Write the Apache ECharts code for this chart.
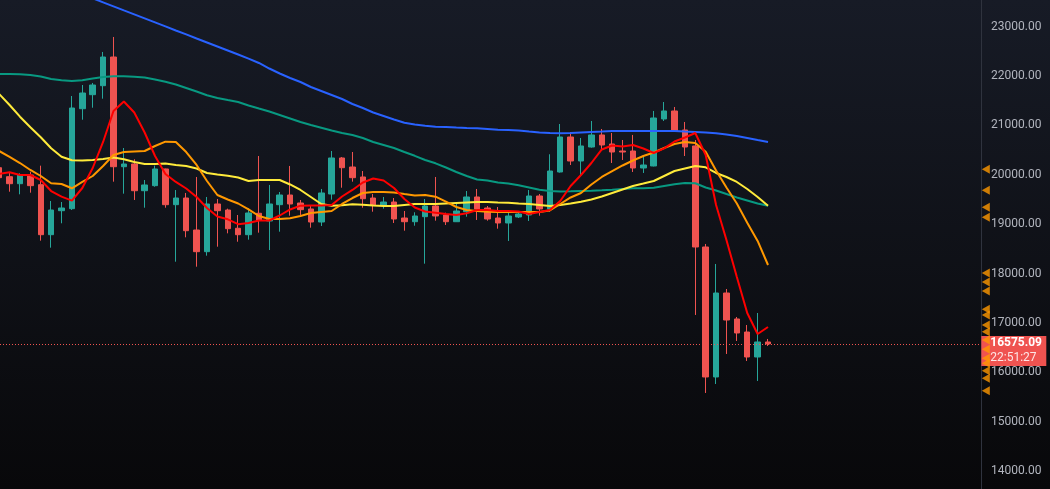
<!DOCTYPE html>
<html>
<head>
<meta charset="utf-8">
<script src="https://cdn.jsdelivr.net/npm/echarts@6/dist/echarts.min.js"></script>
<style>
  html, body { margin: 0; padding: 0; background: #0f1117; }
  #chart { width: 1050px; height: 489px; }
</style>
</head>
<body>
<div id="chart"></div>
<script>
// ---- DATA ----
const startDate = '2022-09-02';
const totalSlots = 95; // visible candles + empty space to the right

const open  = [20144,19962,19820,19996,19800,18787,19273,19314,21339,21623,21805,22386,20164,20219,19678,19780,20118,19395,19530,18882,18443,19409,19287,18917,18787,19221,19065,19395,19591,19429,19308,19044,19611,20341,20158,19956,19530,19383,19449,19125,19050,19152,19368,19186,19050,19253,19551,19328,19125,19024,19146,19186,19571,19308,20057,20766,20280,20563,20807,20624,20482,20482,20138,20179,21131,21293,20908,20584,18538,15905,17606,17080,16816,16310,16614];
const high  = [20180,20043,20031,20063,20185,19470,19449,21596,21819,21860,22488,22792,20543,20314,19895,20185,20125,19692,19632,19956,19551,19510,19314,19186,19322,20381,19794,19652,20179,19490,19383,19713,20482,20361,20462,20077,19611,19551,19530,19267,19241,19510,19956,19233,19429,19672,19713,19368,19348,19253,19267,19692,19611,20416,21029,20867,20746,21090,20928,20847,20705,20807,20401,21293,21475,21374,21070,20705,18599,18194,17687,17120,16958,17201,16675];
const low   = [19880,19658,19605,19638,18666,18524,19018,19287,21116,21359,21542,19861,19618,19490,19334,19759,19334,18240,18734,18139,18362,18544,18815,18645,18686,18828,18477,18848,19172,19186,18929,18963,19496,19739,19861,19334,19253,19314,19024,18868,18969,18200,19071,18984,19044,19152,19085,19071,18909,18660,19125,19065,19172,19253,20045,20199,19996,20550,20503,20239,20300,20057,20037,20170,21090,20880,20381,17161,15581,15763,16371,16634,16229,15824,16533];
const close = [19942,19820,19996,19780,18787,19287,19328,21353,21657,21819,22386,20164,20219,19678,19794,20118,19395,19530,18868,18443,19409,19273,18909,18787,19227,19079,19409,19591,19409,19294,19044,19632,20341,20144,19942,19516,19389,19449,19105,19050,19166,19368,19166,19050,19267,19551,19308,19105,19024,19166,19206,19571,19308,20077,20766,20280,20584,20807,20604,20462,20462,20138,20199,21151,21293,20888,20563,18538,15905,17606,17059,16796,16310,16614,16575.09];

const maRed    = [20017,20051,19996,19996,19895,19672,19557,19476,19733,20138,20665,21293,21485,21262,20857,20381,20017,19855,19723,19551,19328,19156,19099,19000,19024,19075,19075,19176,19298,19375,19379,19379,19389,19561,19693,19845,19926,19885,19733,19510,19338,19257,19233,19206,19186,19221,19287,19287,19267,19267,19257,19206,19247,19287,19470,19774,19996,20239,20513,20594,20574,20604,20533,20442,20537,20675,20756,20847,20401,19389,18680,17930,17201,16776,16918];
const maOrange = [20482,20361,20239,20098,19976,19828,19814,19727,19855,19976,20179,20401,20462,20472,20482,20584,20671,20665,20462,20199,19875,19591,19500,19419,19298,19166,19105,19105,19119,19166,19227,19247,19267,19409,19530,19632,19652,19652,19642,19611,19581,19591,19557,19456,19348,19287,19267,19253,19247,19247,19247,19247,19247,19277,19409,19541,19632,19804,19956,20077,20189,20290,20381,20452,20543,20624,20665,20644,20468,20087,19743,19419,19030,18660,18173];
const maYellow = [21637,21414,21177,20962,20760,20537,20367,20294,20290,20300,20320,20351,20314,20260,20219,20219,20229,20199,20179,20128,20037,20006,19982,19946,19875,19895,19895,19895,19804,19693,19551,19409,19375,19383,19403,19395,19379,19368,19368,19389,19409,19409,19409,19419,19429,19439,19449,19449,19439,19435,19419,19409,19389,19368,19389,19419,19456,19500,19561,19632,19703,19774,19824,19875,19976,20077,20128,20179,20152,20037,19956,19855,19713,19551,19375];
const maGreen  = [22042,22042,22036,22022,21991,21941,21914,21900,21914,21951,21981,21995,21998,21987,21971,21931,21886,21829,21759,21688,21611,21556,21515,21475,21404,21343,21283,21212,21141,21070,21009,20954,20898,20847,20807,20746,20665,20604,20543,20462,20385,20300,20233,20148,20057,19976,19905,19885,19844,19824,19788,19743,19697,19672,19662,19666,19672,19678,19686,19699,19713,19727,19729,19737,19774,19808,19834,19828,19743,19682,19611,19541,19480,19419,19372];
const maBlue   = [24307,24226,24145,24064,23983,23902,23821,23737,23656,23575,23494,23413,23330,23249,23168,23087,23006,22923,22844,22761,22680,22599,22518,22437,22354,22265,22153,22052,21961,21880,21779,21698,21617,21536,21434,21353,21262,21191,21120,21054,21019,20995,20975,20969,20958,20948,20942,20928,20914,20908,20898,20877,20857,20847,20841,20847,20857,20867,20877,20888,20888,20888,20888,20888,20888,20888,20877,20867,20857,20841,20817,20786,20746,20705,20665];

const alertLevels = [20112,19686,19342,19140,18011,17829,17647,17276,17161,16958,16822,16654,16466,16284,16182,16033,15879,15627];
const lastPrice = 16575.09;
const countdown = '22:51:27';
const yTicks = {min: 13000, max: 24000, step: 1000};

// ---- BUILD ----
const categories = [];
{
  const d = new Date(startDate + 'T00:00:00Z');
  for (let i = 0; i < totalSlots; i++) {
    categories.push(d.toISOString().slice(0, 10));
    d.setUTCDate(d.getUTCDate() + 1);
  }
}
const candleData = open.map((o, i) => [o, close[i], low[i], high[i]]);
const lastCat = categories[categories.length - 1];

const UP = '#26a69a', DOWN = '#ef5350';
const FONT = 'Roboto, "Noto Sans", sans-serif';

function maSeries(name, data, color) {
  return {
    name, type: 'line', data, symbol: 'none', smooth: false, z: 4,
    lineStyle: { color, width: 2 }, silent: true, animation: false
  };
}

const chart = echarts.init(document.getElementById('chart'), null, { renderer: 'canvas' });
chart.setOption({
  animation: false,
  backgroundColor: {
    type: 'linear', x: 0, y: 0, x2: 0, y2: 1,
    colorStops: [{ offset: 0, color: '#171b26' }, { offset: 1, color: '#08080a' }]
  },
  grid: { left: -6, right: 69, top: -22.67, bottom: -31.4, containLabel: false, outerBoundsMode: 'none' },
  xAxis: {
    type: 'category', data: categories, boundaryGap: true,
    axisLine: { show: false }, axisTick: { show: false }, axisLabel: { show: false },
    splitLine: { show: false }
  },
  yAxis: {
    type: 'value', position: 'right', scale: true,
    min: yTicks.min, max: yTicks.max, interval: yTicks.step,
    axisLine: { show: true, lineStyle: { color: '#2f333e', width: 1 } },
    axisTick: { show: false },
    splitLine: { show: false },
    axisLabel: {
      margin: 10, color: '#b2b5be', fontSize: 12, fontFamily: FONT,
      formatter: v => (v >= 14000 && v <= 23000) ? v.toFixed(2) : ''
    }
  },
  series: [
    {
      name: 'price', type: 'candlestick', data: candleData, z: 2,
      barWidth: 6,
      itemStyle: { color: UP, color0: DOWN, borderColor: UP, borderColor0: DOWN, borderWidth: 1 },
      markLine: {
        silent: true, symbol: ['none', 'none'], animation: false,
        lineStyle: { color: DOWN, type: [1, 2], width: 1 },
        label: { show: false },
        data: [{ yAxis: lastPrice }]
      },
      markPoint: {
        silent: true, animation: false,
        symbol: 'rect', symbolSize: [65, 30], symbolOffset: [38, 7],
        itemStyle: { color: DOWN },
        label: {
          show: true, position: [9, 15], align: 'left', verticalAlign: 'middle',
          formatter: () => '{a|' + lastPrice.toFixed(2) + '}\n{b|' + countdown + '}',
          rich: {
            a: { color: '#ffffff', fontSize: 12, fontWeight: 'bold', fontFamily: FONT, lineHeight: 15 },
            b: { color: 'rgba(255,255,255,0.85)', fontSize: 12, fontFamily: FONT, lineHeight: 15 }
          }
        },
        data: [{ coord: [lastCat, lastPrice] }]
      }
    },
    maSeries('MA blue', maBlue, '#2962ff'),
    maSeries('MA green', maGreen, '#089981'),
    maSeries('MA yellow', maYellow, '#ffeb3b'),
    maSeries('MA orange', maOrange, '#ff9800'),
    maSeries('MA red', maRed, '#ff0000'),
    {
      name: 'alerts', type: 'scatter', z: 20, clip: false, silent: true,
      symbol: 'triangle', symbolRotate: 90, symbolSize: [9, 8], symbolOffset: [10, 0],
      itemStyle: { color: '#ff9800' },
      data: alertLevels.map(v => [lastCat, v])
    }
  ]
});
</script>
</body>
</html>
